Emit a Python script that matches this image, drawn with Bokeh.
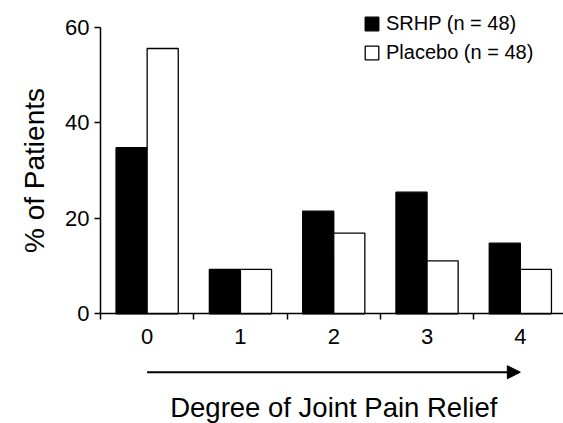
import numpy as np
from bokeh.plotting import figure
from bokeh.models import (FixedTicker, Range1d, Legend, LegendItem, Arrow,
                          NormalHead, Label, ColumnDataSource)
from bokeh.embed import file_html
from bokeh.resources import INLINE

categories = [0, 1, 2, 3, 4]
tick_labels = ["0", "1", "2", "3", "4"]
srhp = [34.8, 9.3, 21.5, 25.5, 14.8]
placebo = [55.6, 9.3, 16.9, 11.1, 9.3]
series_names = ["SRHP (n = 48)", "Placebo (n = 48)"]
y_ticks = [0, 20, 40, 60]
x_title = "Degree of Joint Pain Relief"
y_title = "% of Patients"

FONT = "Liberation Sans"
W, H = 563, 423

# frame covers the whole canvas; axes are pinned with fixed_location
p = figure(width=W, height=H, output_backend="svg", toolbar_location=None,
           x_range=Range1d(-1.5718, 4.4625), y_range=Range1d(-22.99, 65.66),
           min_border_left=0, min_border_right=0, min_border_top=0,
           min_border_bottom=0)
p.outline_line_color = None
p.xgrid.visible = False
p.ygrid.visible = False
p.background_fill_color = "white"
p.border_fill_color = "white"

cats = np.array(categories, dtype=float)
bw = 1.0 / 3.0
src1 = ColumnDataSource(dict(x=cats - bw / 2, top=srhp))
src2 = ColumnDataSource(dict(x=cats + bw / 2, top=placebo))
r1 = p.vbar(x="x", top="top", width=bw, bottom=0, source=src1,
            fill_color="black", line_color="black", line_width=1.3)
r2 = p.vbar(x="x", top="top", width=bw, bottom=0, source=src2,
            fill_color="white", line_color="black", line_width=1.3)

# x axis
xa = p.xaxis[0]
xa.fixed_location = 0
xa.bounds = (-0.5, 4.4625)
xa.ticker = FixedTicker(ticks=categories,
                        minor_ticks=[c - 0.5 for c in categories] + [categories[-1] + 0.5])
xa.major_label_overrides = {c: t for c, t in zip(categories, tick_labels)}
xa.major_tick_line_color = None
xa.major_tick_out = 6
xa.major_tick_in = 0
xa.minor_tick_out = 6
xa.minor_tick_in = 0
xa.minor_tick_line_color = "black"
xa.minor_tick_line_width = 1.5
xa.axis_line_width = 1.5
xa.axis_line_color = "black"
xa.major_label_standoff = 9
xa.major_label_text_font = FONT
xa.major_label_text_font_size = "22px"
xa.major_label_text_color = "black"

# y axis
ya = p.yaxis[0]
ya.fixed_location = -0.5
ya.ticker = FixedTicker(ticks=y_ticks, minor_ticks=[])
ya.bounds = (0, 60)
ya.major_tick_out = 6
ya.major_tick_in = 0
ya.major_tick_line_width = 1.5
ya.major_tick_line_color = "black"
ya.axis_line_width = 1.5
ya.axis_line_color = "black"
ya.major_label_standoff = 5
ya.major_label_text_font = FONT
ya.major_label_text_font_size = "22px"
ya.major_label_text_color = "black"
ya.axis_label = y_title
ya.axis_label_text_font = FONT
ya.axis_label_text_font_size = "28px"
ya.axis_label_text_font_style = "normal"
ya.axis_label_text_color = "black"
ya.axis_label_standoff = 12

# arrow under x axis
p.add_layout(Arrow(x_start=categories[0], x_end=categories[-1], y_start=-12.24, y_end=-12.24,
                   line_width=2, line_color="black",
                   end=NormalHead(size=13, fill_color="black", line_color="black")))

# x axis title
p.add_layout(Label(x=2.0, y=-19.6, text=x_title,
                   text_font=FONT, text_font_size="27.5px", text_color="black",
                   text_align="center", text_baseline="alphabetic"))

legend = Legend(items=[LegendItem(label=series_names[0], renderers=[r1]),
                       LegendItem(label=series_names[1], renderers=[r2])],
                location=(363, 359))
legend.label_text_font = FONT
legend.label_text_font_size = "20px"
legend.label_text_color = "black"
legend.glyph_width = 17
legend.glyph_height = 17
legend.label_height = 20
legend.label_standoff = 6
legend.spacing = 6
legend.padding = 0
legend.margin = 0
legend.border_line_color = None
legend.background_fill_alpha = 0
p.add_layout(legend)

open("out.html", "w").write(file_html(p, INLINE))
